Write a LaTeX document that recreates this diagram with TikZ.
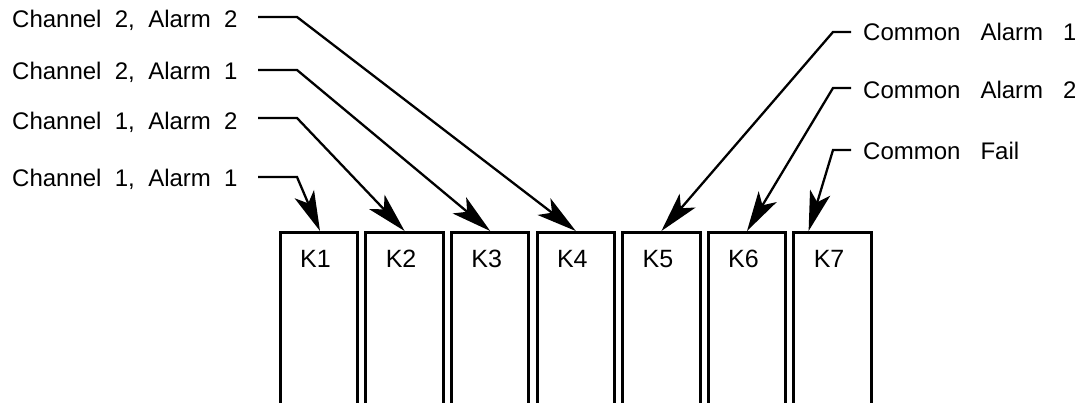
\documentclass[tikz,border=0pt]{standalone}
\usepackage{fontspec}
\setmainfont{Liberation Sans}
\usetikzlibrary{arrows.meta}
\begin{document}
\begin{tikzpicture}[x=1pt,y=-1pt,
  lbl/.style={font=\fontsize{24}{28}\selectfont, inner sep=0pt, anchor=base west},
  relay/.style={draw, line width=3pt, minimum width=77.5pt, minimum height=240pt, anchor=north, inner sep=0pt},
  klbl/.style={font=\fontsize{25}{29}\selectfont, inner sep=0pt},
  wire/.style={line width=2.3pt, line join=miter, -{Stealth[length=40pt,width=21pt,inset=10pt]}}
]
\useasboundingbox (0,0) rectangle (1075,403);
\clip (0,0) rectangle (1075,403);
% relay boxes
\foreach \i in {1,...,7}{
  \node[relay] (K\i) at ({319+85.6*(\i-1)},231) {};
  \node[klbl] (L\i) at ({315.5+85.6*(\i-1)},259) {K\i};
}
% left labels
\node[lbl] (c22) at (12,27.3) {Channel\ \ 2,\ \ Alarm\ \ 2};
\node[lbl] (c21) at (12,80) {Channel\ \ 2,\ \ Alarm\ \ 1};
\node[lbl] (c12) at (12,130) {Channel\ \ 1,\ \ Alarm\ \ 2};
\node[lbl] (c11) at (12,186.7) {Channel\ \ 1,\ \ Alarm\ \ 1};
% right labels
\node[lbl] (ca1) at (863,40.7) {Common\ \ \ Alarm\ \ \ 1};
\node[lbl] (ca2) at (863,98.3) {Common\ \ \ Alarm\ \ \ 2};
\node[lbl] (cf) at (863,159.3) {Common\ \ \ Fail};
% wire points
\coordinate (s22) at (258,17); \coordinate (b22) at (297,17);
\coordinate (s21) at (258,70); \coordinate (b21) at (297,70);
\coordinate (s12) at (258,118); \coordinate (b12) at (297,118);
\coordinate (s11) at (258,177); \coordinate (b11) at (297,177);
\coordinate (sa1) at (851,32); \coordinate (ba1) at (833,32);
\coordinate (sa2) at (851,88); \coordinate (ba2) at (833,88);
\coordinate (sf) at (851,150); \coordinate (bf) at (833,150);
% connectors
\draw[wire] (s11) -- (b11) -- ([xshift=1pt]K1.north);
\draw[wire] (s12) -- (b12) -- (K2.north);
\draw[wire] (s21) -- (b21) -- (K3.north);
\draw[wire] (s22) -- (b22) -- (K4.north);
\draw[wire] (sa1) -- (ba1) -- (K5.north);
\draw[wire] (sa2) -- (ba2) -- (K6.north);
\draw[wire] (sf) -- (bf) -- ([xshift=-24pt]K7.north);
\end{tikzpicture}
\end{document}
